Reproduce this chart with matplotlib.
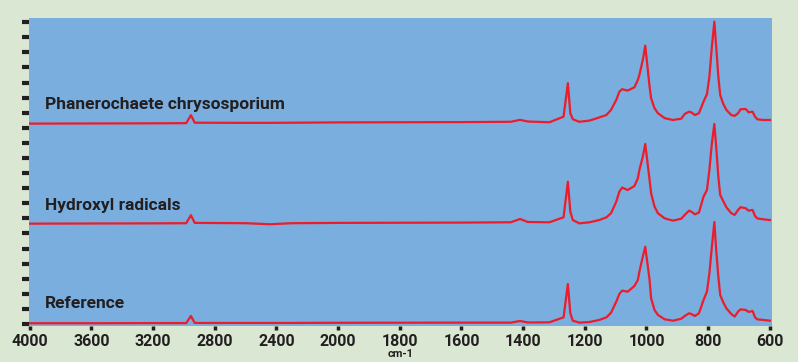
import numpy as np
import matplotlib.pyplot as plt

# wavenumbers (cm-1) shared by the three traces
wn = [4000, 3600, 3200, 2985, 2955, 2930, 2600, 2444, 2300, 2000,
      1600, 1440, 1410, 1385, 1315, 1269, 1255, 1247, 1239, 1218,
      1185, 1153, 1130, 1115, 1098, 1088, 1079, 1061, 1039, 1028,
      1023, 1012, 1004, 990, 985, 974, 963, 941, 914, 887,
      876, 862, 855, 843, 830, 815, 804, 796, 788, 780,
      774, 767, 761, 752, 741, 725, 714, 703, 695, 678,
      669, 656, 648, 641, 622, 600]

phanero = [13.28, 13.29, 13.30, 13.31, 13.84, 13.34, 13.33, 13.33, 13.34, 13.36,
           13.38, 13.40, 13.53, 13.42, 13.37, 13.74, 15.96, 13.97, 13.57, 13.40,
           13.48, 13.69, 13.85, 14.19, 14.85, 15.40, 15.56, 15.47, 15.69, 16.18,
           16.51, 17.50, 18.45, 15.73, 14.96, 14.30, 13.97, 13.64, 13.52, 13.61,
           13.92, 14.07, 14.03, 13.85, 13.97, 14.74, 15.23, 16.39, 18.38, 20.04,
           18.38, 16.39, 15.18, 14.63, 14.19, 13.85, 13.79, 13.97, 14.23, 14.25,
           14.03, 14.07, 13.74, 13.57, 13.52, 13.52]

hydroxyl = [6.65, 6.66, 6.67, 6.68, 7.21, 6.70, 6.68, 6.61, 6.68, 6.70,
            6.72, 6.74, 6.96, 6.76, 6.74, 7.07, 9.43, 7.45, 6.89, 6.67,
            6.74, 6.89, 7.07, 7.34, 8.11, 8.77, 9.04, 8.88, 9.15, 9.66,
            10.21, 11.09, 11.93, 9.55, 8.66, 7.78, 7.34, 7.00, 6.85, 6.98,
            7.23, 7.51, 7.45, 7.27, 7.38, 8.44, 8.88, 10.21, 11.98, 13.26,
            11.75, 9.76, 8.55, 8.18, 7.74, 7.34, 7.23, 7.56, 7.74, 7.67,
            7.51, 7.56, 7.16, 7.00, 6.94, 6.89]

reference = [0.05, 0.05, 0.06, 0.06, 0.53, 0.07, 0.07, 0.07, 0.07, 0.08,
             0.09, 0.09, 0.20, 0.10, 0.11, 0.44, 2.65, 0.71, 0.22, 0.09,
             0.13, 0.27, 0.44, 0.75, 1.48, 1.99, 2.21, 2.14, 2.52, 2.92,
             3.47, 4.46, 5.12, 2.92, 1.70, 0.93, 0.60, 0.31, 0.22, 0.35,
             0.53, 0.71, 0.66, 0.53, 0.71, 1.59, 2.14, 3.36, 5.12, 6.76,
             4.91, 3.14, 1.92, 1.48, 1.04, 0.66, 0.49, 0.82, 0.97, 0.93,
             0.80, 0.86, 0.44, 0.31, 0.27, 0.22]

labels = ["Phanerochaete chrysosporium", "Hydroxyl radicals", "Reference"]
label_y = [14.27, 7.56, 1.04]
xticks = [4000, 3600, 3200, 2800, 2400, 2000, 1800, 1600, 1400, 1200, 1000, 800, 600]


# spectrometer axis: 400 cm-1 per division above 2000, 200 below
def fwd(w):
    w = np.asarray(w, float)
    return np.where(w >= 2000, w / 400, w / 200 - 5)


def inv(u):
    u = np.asarray(u, float)
    return np.where(u >= 5, u * 400, (u + 5) * 200)


plt.rcParams['font.family'] = ['Roboto', 'DejaVu Sans']
fig = plt.figure(figsize=(7.98, 3.62), dpi=100, facecolor='#d9e7d3')
ax = fig.add_axes([29 / 798, 1 - 325.5 / 362, 743 / 798, 307.5 / 362])
ax.set_facecolor('#79aedf')
ax.set_xscale('function', functions=(fwd, inv))

red = '#ec1c2a'
for y in [phanero, hydroxyl, reference]:
    ax.plot(wn, y, color=red, lw=1.6, solid_joinstyle='round')

for txt, y in zip(labels, label_y):
    ax.text(3903, y, txt, fontsize=12.5, fontweight='bold', color='#231f20', va='baseline')

ax.set_xlim(4005, 593)
ax.set_ylim(-0.1, 20.28)
ax.set_xticks(xticks)
ax.set_xticklabels([str(t) for t in xticks])
ax.xaxis.set_minor_locator(plt.NullLocator())
ax.set_yticks(range(21))
ax.set_yticklabels([])
ax.tick_params(axis='x', direction='out', length=3, width=2.5, color='#231f20',
               pad=3, labelsize=11.5, labelcolor='#231f20')
ax.tick_params(axis='y', direction='out', length=5, width=3, color='#231f20')
for lab in ax.get_xticklabels():
    lab.set_fontweight('bold')
for s in ax.spines.values():
    s.set_visible(False)
ax.set_xlabel('cm-1', fontsize=8, fontweight='bold', color='#231f20', labelpad=0)

fig.savefig('out.png', dpi=100, facecolor=fig.get_facecolor())
